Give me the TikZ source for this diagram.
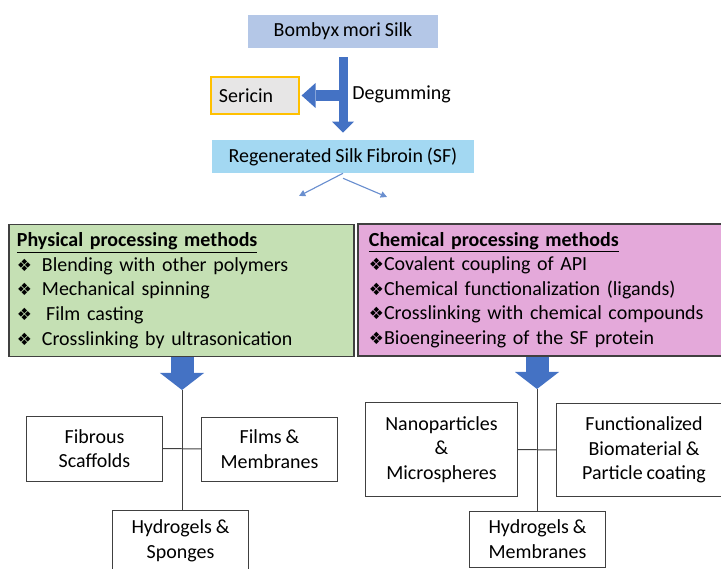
\documentclass[tikz,border=0pt]{standalone}
\usepackage{fontspec}
\setmainfont{Carlito}[WordSpace=0.85]
\newfontfamily\symfont{DejaVu Sans}
\usetikzlibrary{arrows.meta,positioning,calc}

\definecolor{silkblue}{HTML}{B4C7E7}
\definecolor{fibroin}{HTML}{A3D8F2}
\definecolor{sericingray}{HTML}{E7E6E6}
\definecolor{sericinedge}{HTML}{FFC000}
\definecolor{physgreen}{HTML}{C5E0B4}
\definecolor{chempink}{HTML}{E4A9DA}
\definecolor{arrowblue}{HTML}{4472C4}
\definecolor{thinblue}{HTML}{6A8FCF}
\definecolor{linegray}{HTML}{404040}

\newcommand{\boxfont}{\fontsize{14.2}{17.5}\selectfont}
\newcommand{\bul}{{\symfont\fontsize{12}{12}\selectfont ❖}}

\begin{document}
\begin{tikzpicture}[
    x=0.025cm, y=-0.025cm,
    bar/.style={minimum height=0.825cm, inner sep=0pt, font=\boxfont},
    method/.style={draw=linegray, line width=0.8pt, align=left, inner ysep=0pt, minimum height=3.3cm, font=\boxfont},
    prod/.style={draw=linegray, line width=0.7pt, fill=white, align=center, inner sep=0pt, minimum width=3.375cm, font=\boxfont},
    degarrow/.style={draw=arrowblue, line width=0.225cm, -{Triangle[width=0.55cm,length=0.275cm,line width=0pt]}},
    bigarrow/.style={draw=arrowblue, line width=0.575cm, -{Triangle[width=1.1cm,length=0.425cm,line width=0pt]}},
    thinarrow/.style={draw=thinblue, line width=0.8pt, -{Triangle[width=4.5pt,length=4.5pt]}},
    tree/.style={draw=linegray, line width=0.7pt}
]
\useasboundingbox (0,0) rectangle (721,569);

% --- Top: raw silk and degumming ---
\node[bar, fill=silkblue, minimum width=4.75cm] (silk) at (343,31.5) {Bombyx mori Silk};
\node[bar, fill=sericingray, draw=sericinedge, line width=0.8pt, minimum width=2.2cm, minimum height=0.925cm,
      text width=1.8cm, align=left, inner xsep=0.2cm] (sericin) at (255,95.5) {Sericin};
\node[font=\boxfont, anchor=west, inner sep=0pt] (degum) at (352,94) {Degumming};
\node[bar, fill=fibroin, minimum width=6.55cm] (sf) at (343,156.5) {Regenerated Silk Fibroin (SF)};

% --- Processing methods ---
\node[method, fill=physgreen, text width=8.225cm, inner xsep=0.2cm] (phys) at (181.5,290.5)
    {\underline{\textbf{Physical processing methods}}\\
     \bul\hspace{7pt}Blending with other polymers\\
     \bul\hspace{7pt}Mechanical spinning\\
     \bul\hspace{10pt}Film casting\\
     \bul\hspace{7pt}Crosslinking by ultrasonication};
\node[method, fill=chempink, text width=8.75cm, inner xsep=0.275cm] (chem) at (544,290)
    {\underline{\textbf{Chemical processing methods}}\\
     \bul Covalent coupling of API\\
     \bul Chemical functionalization (ligands)\\
     \bul Crosslinking with chemical compounds\\
     \bul Bioengineering of the SF protein};

% --- Products: physical ---
\node[prod, minimum height=1.625cm] (fibrous) at (94.5,448.5) {Fibrous\\Scaffolds};
\node[prod, minimum height=1.6cm]   (films)   at (269.5,449)  {Films \&\\Membranes};
\node[prod, minimum height=1.55cm]  (hydroA)  at (180.5,541)  {Hydrogels \&\\Sponges};

% --- Products: chemical ---
\node[prod, minimum width=3.775cm, minimum height=2.325cm] (nano) at (441.5,449.5) {Nanoparticles\\\&\\Microspheres};
\node[prod, minimum width=4.35cm, minimum height=2.3cm]    (func) at (644,450)     {Functionalized\\Biomaterial \&\\Particle coating};
\node[prod, minimum height=1.4125cm] (hydroB) at (537.5,539.25) {Hydrogels \&\\Membranes};

% --- Degumming arrows ---
\draw[degarrow, shorten <=0.225cm, shorten >=0.175cm] (silk.south) -- (sf.north);
\coordinate (split) at (343,95.5);
\draw[degarrow, line width=0.275cm, -{Triangle[width=0.625cm,length=0.35cm,line width=0pt]}, shorten >=0.05cm]
    (split) -- (split -| sericin.east);

% --- Split towards the two routes ---
\coordinate (lfree) at (299,196);
\coordinate (rfree) at (387,197);
\draw[thinarrow] (sf.south) -- (lfree);
\draw[thinarrow] ([yshift=-0.125cm]sf.south) -- (rfree);

% --- Physical route tree ---
\coordinate (pjoint) at (182,390);
\draw[bigarrow] (phys.south -| pjoint) -- (pjoint);
\draw[tree] (pjoint) -- (pjoint |- hydroA.north);
\draw[tree] (fibrous.east) -- (films.west);

% --- Chemical route tree ---
\coordinate (cjoint) at (537,389);
\draw[bigarrow] (chem.south -| cjoint) -- (cjoint);
\draw[tree] (cjoint) -- (cjoint |- hydroB.north);
\draw[tree] (nano.east) -- (func.west);
\end{tikzpicture}
\end{document}
